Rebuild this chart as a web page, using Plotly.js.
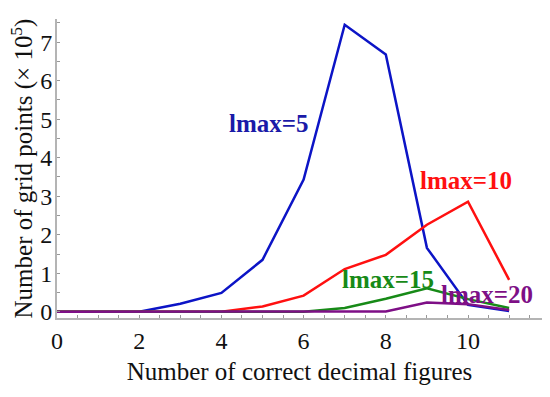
<!DOCTYPE html>
<html>
<head>
<meta charset="utf-8">
<script src="https://cdn.plot.ly/plotly-3.0.1.min.js"></script>
<style>html,body{margin:0;padding:0;background:#fff;}#chart{width:550px;height:397px;}</style>
</head>
<body>
<div id="chart"></div>
<script>
const figures = [0, 1, 2, 3, 4, 5, 6, 7, 8, 9, 10, 11];
const lmax5  = [0, 0, 0, 0.21, 0.49, 1.35, 3.43, 7.45, 6.68, 1.66, 0.18, 0.02];
const lmax10 = [0, 0, 0, 0, 0, 0.14, 0.42, 1.11, 1.48, 2.26, 2.86, 0.83];
const lmax15 = [0, 0, 0, 0, 0, 0, 0, 0.10, 0.34, 0.61, 0.33, 0.10];
const lmax20 = [0, 0, 0, 0, 0, 0, 0, 0, 0.01, 0.24, 0.20, 0.05];
const seriesNames = ["lmax=5", "lmax=10", "lmax=15", "lmax=20"];
const xTickVals = [0, 2, 4, 6, 8, 10];
const yTickVals = [0, 1, 2, 3, 4, 5, 6, 7];

const lineColors = ["#0c14c6", "#ff1010", "#178a17", "#7e0f86"];
const textColors = ["#1a1aa8", "#ff1010", "#178a17", "#7e0f86"];
const labelPos = [[5.16, 4.88], [9.95, 3.40], [8.05, 0.83], [10.46, 0.46]];
const allSeries = [lmax5, lmax10, lmax15, lmax20];

const traces = allSeries.map((ys, i) => ({
  x: figures, y: ys, type: "scatter", mode: "lines",
  name: seriesNames[i],
  line: {color: lineColors[i], width: 2.5},
  hoverinfo: "x+y+name"
}));

const serif = "Liberation Serif, Times New Roman, serif";
const annotations = seriesNames.map((n, i) => ({
  x: labelPos[i][0], y: labelPos[i][1], xref: "x", yref: "y",
  text: "<b>" + n + "</b>", showarrow: false,
  font: {family: serif, size: 25, color: textColors[i]},
  xanchor: "center", yanchor: "middle"
}));

const layout = {
  width: 550, height: 397,
  margin: {l: 57, r: 8, t: 19, b: 79},
  paper_bgcolor: "#ffffff", plot_bgcolor: "#ffffff",
  showlegend: false,
  font: {family: serif, size: 24, color: "#111"},
  xaxis: {
    range: [0, 11.8], showgrid: false, zeroline: false,
    showline: true, linecolor: "#b4b4b4", linewidth: 2,
    tickvals: xTickVals, ticktext: xTickVals.map(String),
    ticks: "inside", ticklen: 3, tickcolor: "#999", tickwidth: 1,
    minor: {dtick: 0.5, tick0: 0, ticks: "inside", ticklen: 3, tickcolor: "#999", tickwidth: 1},
    tickfont: {family: serif, size: 24, color: "#111"},
    title: {text: "Number of correct decimal figures", font: {family: serif, size: 25, color: "#111"}, standoff: 10}
  },
  yaxis: {
    range: [-0.16, 7.6], showgrid: false, zeroline: false,
    showline: true, linecolor: "#b4b4b4", linewidth: 2,
    tickvals: yTickVals, ticktext: yTickVals.map(String),
    ticks: "inside", ticklen: 3, tickcolor: "#999", tickwidth: 1,
    minor: {dtick: 0.5, tick0: 0, ticks: "inside", ticklen: 3, tickcolor: "#999", tickwidth: 1},
    tickfont: {family: serif, size: 24, color: "#111"},
    ticklabelstandoff: -2,
    title: {text: "Number of grid points (× 10<sup>5</sup>)", font: {family: serif, size: 25, color: "#111"}, standoff: 0}
  },
  annotations: annotations
};

Plotly.newPlot("chart", traces, layout, {displayModeBar: false, staticPlot: true});
</script>
</body>
</html>
